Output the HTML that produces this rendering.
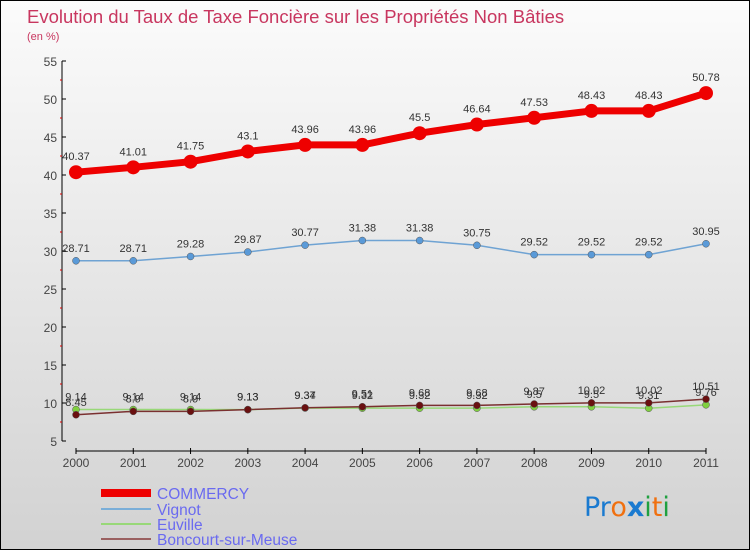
<!DOCTYPE html>
<html><head><meta charset="utf-8"><style>
body{margin:0;}
#c{width:750px;height:550px;position:relative;background:linear-gradient(#fbfbfb,#d2d2d2);border:1px solid #000;box-sizing:border-box;overflow:hidden;font-family:"Liberation Sans",sans-serif;}
</style></head><body>
<div id="c">
<svg id="s" width="750" height="550" xmlns="http://www.w3.org/2000/svg">
<text x="26" y="22" font-size="18.5" fill="#c8365f">Evolution du Taux de Taxe Foncière sur les Propriétés Non Bâties</text>
<text x="26" y="39" font-size="11" fill="#c8365f">(en %)</text>
<g id="axes"></g>
<g id="series"></g>
<g>
<rect x="100" y="488" width="50" height="8" fill="#e00"/>
<text x="156" y="498" font-size="15.5" fill="#6a6af0">COMMERCY</text>
<line x1="100" y1="508" x2="150" y2="508" stroke="#7aaed8" stroke-width="2"/>
<text x="156" y="514" font-size="15.5" fill="#6a6af0">Vignot</text>
<line x1="100" y1="523" x2="150" y2="523" stroke="#98d878" stroke-width="2"/>
<text x="156" y="529" font-size="15.5" fill="#6a6af0">Euville</text>
<line x1="100" y1="538" x2="150" y2="538" stroke="#9a6060" stroke-width="2"/>
<text x="156" y="544" font-size="15.5" fill="#6a6af0">Boncourt-sur-Meuse</text>
</g>
<g font-size="27" font-family="'DejaVu Sans',sans-serif">
<text x="583" y="515"><tspan fill="#1a7ad0">Pr</tspan><tspan fill="#f07010">o</tspan><tspan fill="#1a7ad0" font-weight="bold">x</tspan><tspan fill="#20a040">i</tspan><tspan fill="#f07010">t</tspan><tspan fill="#20a040">i</tspan></text>
</g>
</svg>
</div>
<script>
const years=[2000,2001,2002,2003,2004,2005,2006,2007,2008,2009,2010,2011];
const yTicks=[5,10,15,20,25,30,35,40,45,50,55];
const commercy=[40.37,41.01,41.75,43.1,43.96,43.96,45.5,46.64,47.53,48.43,48.43,50.78];
const vignot=[28.71,28.71,29.28,29.87,30.77,31.38,31.38,30.75,29.52,29.52,29.52,30.95];
const euville=[9.14,9.14,9.14,9.13,9.34,9.32,9.32,9.32,9.5,9.5,9.31,9.76];
const boncourt=[8.45,8.9,8.9,9.13,9.37,9.51,9.68,9.68,9.87,10.02,10.02,10.51];
const NS="http://www.w3.org/2000/svg";
function xs(i){return 75+i*(630/11);}
function ys(v){return 440-(v-5)*7.6;}
function mk(t,a,p){const e=document.createElementNS(NS,t);for(const k in a)e.setAttribute(k,a[k]);p.appendChild(e);return e;}
const ax=document.getElementById('axes');
let yl=mk('line',{x1:61,y1:60,x2:61,y2:440,stroke:'#000'},ax);


yTicks.forEach(v=>{
 const y=ys(v);
 const t=mk('line',{x1:61,y1:y,x2:65,y2:y,stroke:'#000'},ax);
 
 
 if(v<55){const m=mk('line',{x1:59,y1:y-19,x2:61,y2:y-19,stroke:'#d00'},ax);
 
 }
 const l=mk('text',{x:56,y:y+5,'text-anchor':'end','font-size':12,fill:'#444'},ax);
 l.textContent=v;
 
 
});
let xl=mk('line',{x1:75,y1:450,x2:705,y2:450,stroke:'#000'},ax);


years.forEach((yr,i)=>{
 const x=xs(i);
 const t=mk('line',{x1:x,y1:447,x2:x,y2:453,stroke:'#000'},ax);
 
 
 const l=mk('text',{x:x,y:466,'text-anchor':'middle','font-size':12,fill:'#444'},ax);
 l.textContent=yr;
 
 
});
const sg=document.getElementById('series');
function draw(vals,name,color,lw,r,fill,lblOff){
 const g=mk('g',{},sg);
 
 
 const pl=mk('polyline',{points:vals.map((v,i)=>xs(i)+','+ys(v)).join(' '),fill:'none',stroke:color,'stroke-width':lw,'stroke-linejoin':'round'},g);
 
 
 vals.forEach((v,i)=>{
  const c=mk('circle',{cx:xs(i),cy:ys(v),r:r,fill:fill,stroke:lw>3?'none':'#555','stroke-width':0.5},g);
  
  
  const t=mk('text',{x:xs(i),y:ys(v)+lblOff,'text-anchor':'middle','font-size':11,fill:'#333'},g);
  t.textContent=v;
  
  
 });
}
draw(vignot,'vignot','#6fa3d3',1.5,3.5,'#5a9ad8',-9);
draw(euville,'euville','#98d878',1.5,3.5,'#80d040',-9);
draw(boncourt,'boncourt','#7a3030',1.5,3.5,'#6a1010',-9);
draw(commercy,'commercy','#e00',7,7,'#e00',-12);
</script>
</body></html>
